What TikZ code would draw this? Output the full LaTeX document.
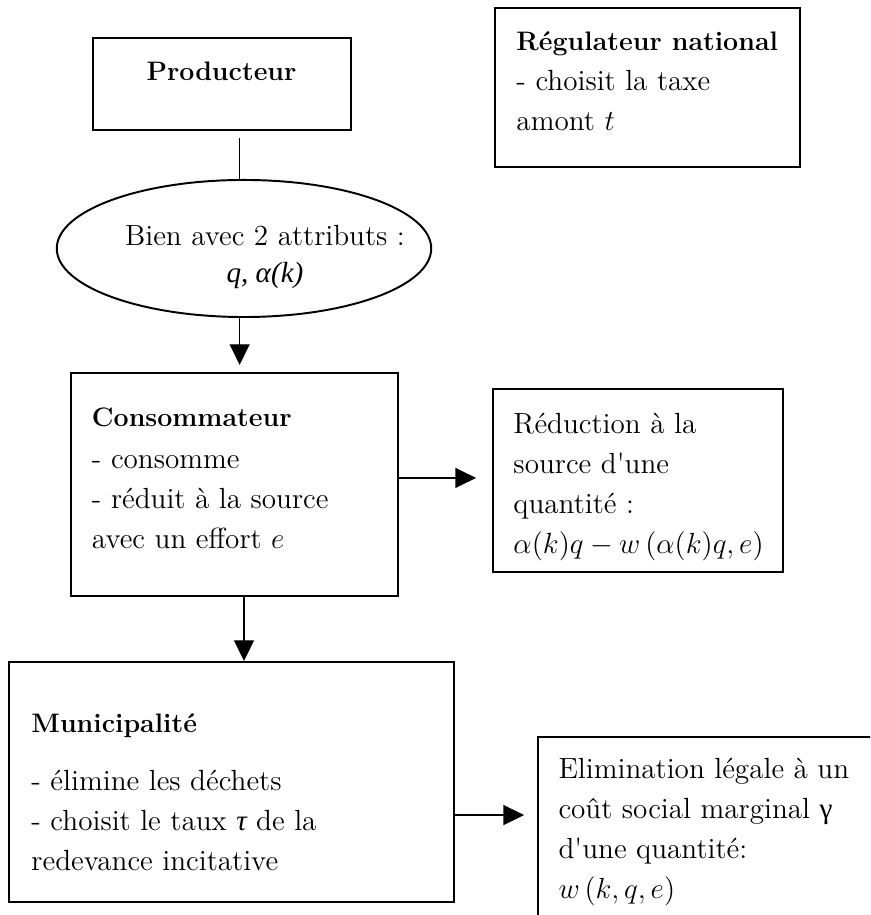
\documentclass[tikz,border=0pt]{standalone}
\usepackage{fontspec}
\newfontfamily\timesfont{Liberation Serif}
\usetikzlibrary{arrows.meta,shapes.geometric}
\newcommand{\titre}[1]{{\fontsize{11}{16.5}\selectfont\bfseries #1}}

\begin{document}
\begin{tikzpicture}[x=0.4115pt,y=-0.4115pt,
    cadre/.style={draw,line width=0.8pt,inner sep=0pt},
    texte/.style={inner sep=0pt,align=left,font=\fontsize{12}{16.5}\selectfont},
    lien/.style={line width=0.55pt},
    fleche/.style={lien,-{Triangle[length=8.5pt,width=8.2pt]}}]
  \useasboundingbox (0,0) rectangle (870,915);

  \node[cadre,minimum width=106.2pt,minimum height=37.9pt] (prod) at (222,84) {};
  \node[texte,anchor=base] (tprod) at (221.5,81) {\titre{Producteur}};

  \node[cadre,minimum width=125.5pt,minimum height=65.4pt] (regul) at (647.5,87.5) {};
  \node[texte,anchor=north west] (tregul) at (516,31.3) {\titre{Régulateur national}\\- choisit la taxe\\amont $t$};

  \node[cadre,ellipse,minimum width=154.1pt,minimum height=56.4pt] (bien) at (244,248.5) {};
  \node[texte,align=center,anchor=north] (tbien) at (265,224.8) {Bien avec 2 attributs :\\[-1.2pt]{\timesfont\itshape q, α(k)}};

  \node[cadre,minimum width=134.6pt,minimum height=91.8pt] (conso) at (234.5,484.5) {};
  \node[texte,anchor=north west] (tconso) at (91.5,407.3) {\titre{Consommateur}\\[0.8pt]- consomme\\- réduit à la source\\avec un effort $e$};

  \node[cadre,minimum width=119.5pt,minimum height=75.3pt] (reduc) at (637.75,480.5) {};
  \node[texte,anchor=north west] (treduc) at (513,412.8) {Réduction à la\\source d\textquotesingle une\\quantité :\\$\alpha(k)q-w\left(\alpha(k)q,e\right)$};

  \node[cadre,minimum width=183.1pt,minimum height=98.8pt] (munic) at (231.5,782) {};
  \node[texte,anchor=north west] (tmunic) at (31,713.3) {\titre{Municipalité}\\[7.4pt]- élimine les déchets\\- choisit le taux {\timesfont\itshape τ} de la\\redevance incitative};

  % boite coupee par le bord
  \begin{scope}
    \clip (0,0) rectangle (870,915);
    \node[cadre,minimum width=149pt,minimum height=81.5pt] (elimin) at (719,836) {};
  \end{scope}
  \node[texte,anchor=north west] (telimin) at (558,757.8) {Elimination légale à un\\coût social marginal {\timesfont γ}\\d\textquotesingle une quantité:\\$w\left(k,q,e\right)$};

  % liens
  \draw[lien,shorten <=2.9pt] ([xshift=-1.8pt]bien.north |- prod.south) -- ([xshift=-1.8pt]bien.north);
  \draw[fleche,shorten >=2.9pt] ([xshift=-1.8pt]bien.south) -- ([xshift=-1.8pt]bien.south |- conso.north);
  \draw[fleche,shorten >=6.4pt] ([yshift=2.7pt]conso.east) -- ([yshift=2.7pt]conso.east -| reduc.west);
  \draw[fleche] (bien.south |- conso.south) -- (bien.south |- munic.north);
  \draw[fleche,shorten >=5.3pt] ([yshift=-13.6pt]munic.east) -- ([yshift=-13.6pt]munic.east -| elimin.west);
\end{tikzpicture}
\end{document}
